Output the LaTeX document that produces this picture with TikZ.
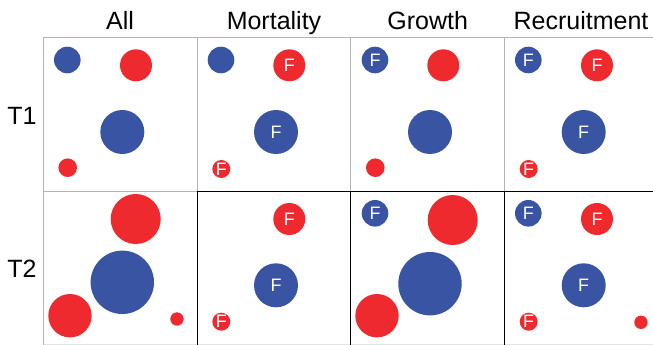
\documentclass[tikz,border=0pt]{standalone}
\usepackage{fontspec}
\setmainfont{Liberation Sans}
\usetikzlibrary{positioning}

\definecolor{DotBlue}{HTML}{3A54A4}
\definecolor{DotRed}{HTML}{EE2A2F}
\definecolor{GridGray}{HTML}{B4B4B4}
\definecolor{EdgeGray}{HTML}{E4E4E4}

\tikzset{
    spot/.style={circle, inner sep=0pt, minimum size=#1, text=white,
        font=\fontsize{18}{18}\selectfont},
    bluespot/.style={spot=#1, fill=DotBlue},
    redspot/.style={spot=#1, fill=DotRed},
    head/.style={anchor=base, font=\fontsize{25}{29}\selectfont},
    graygrid/.style={GridGray, line width=0.8pt},
    blackgrid/.style={black, line width=1pt},
}

\begin{document}
\begin{tikzpicture}[x=1pt, y=-1pt]
\useasboundingbox (0,0) rectangle (653,345);

% ============================
\node[head] (hAll) at (120,30) {All};
\node[head] (hMort) at (274,30) {Mortality};
\node[head] (hGrow) at (427.7,30) {Growth};
\node[head] (hRecr) at (581,30) {Recruitment};

\node[head] (rowA) at (22,124) {T1};
\node[head] (rowB) at (22,277.5) {T2};

% ============================
\draw[EdgeGray, line width=0.8pt] (43,344) -- (653,344);
\draw[graygrid] (43,37.7) -- (653,37.7);
\draw[graygrid] (43,37.7) -- (43,345);
\draw[graygrid] (43,191.7) -- (197,191.7);
\draw[graygrid] (197,37.7) -- (197,191.7);
\draw[graygrid] (350.7,37.7) -- (350.7,191.7);
\draw[graygrid] (504,37.7) -- (504,191.7);

\draw[blackgrid] (197,191.7) -- (653,191.7);
\draw[blackgrid] (197,191.7) -- (197,345);
\draw[blackgrid] (350.7,191.7) -- (350.7,345);
\draw[blackgrid] (504,191.7) -- (504,345);

% ============================ T1
\node[bluespot=26.6pt] (aAll1) at (67.3,60) {};
\node[redspot=32pt] (aAll2) at (136,65.3) {};
\node[bluespot=44pt] (aAll3) at (122.3,132) {};
\node[redspot=18.6pt] (aAll4) at (67.7,167.7) {};

\node[bluespot=26.6pt] (aMort1) at (221,60) {};
\node[redspot=32pt] (aMort2) at (289.3,65.3) {F};
\node[bluespot=44pt] (aMort3) at (276,132) {F};
\node[redspot=18pt] (aMort4) at (221.3,169) {F};

\node[bluespot=26.6pt] (aGrow1) at (375,60) {F};
\node[redspot=32pt] (aGrow2) at (443.3,65.3) {};
\node[bluespot=44pt] (aGrow3) at (430,132) {};
\node[redspot=18.6pt] (aGrow4) at (375.3,167.7) {};

\node[bluespot=26.6pt] (aRecr1) at (528.3,60) {F};
\node[redspot=32pt] (aRecr2) at (597,65.3) {F};
\node[bluespot=44pt] (aRecr3) at (583.7,132) {F};
\node[redspot=18pt] (aRecr4) at (528.7,169) {F};

% ============================ T2
\node[redspot=50pt] (bAll2) at (135.7,219) {};
\node[bluespot=63.4pt] (bAll3) at (122.3,282.3) {};
\node[redspot=43.4pt] (bAll4) at (70,315.7) {};
\node[redspot=13.4pt] (bAll5) at (177,319) {};

\node[redspot=32pt] (bMort2) at (289.3,219) {F};
\node[bluespot=44pt] (bMort3) at (276,285.3) {F};
\node[redspot=18pt] (bMort4) at (221.3,321.7) {F};

\node[bluespot=26.6pt] (bGrow1) at (375,213.3) {F};
\node[redspot=50pt] (bGrow2) at (452.7,220) {};
\node[bluespot=63.4pt] (bGrow3) at (430,283.7) {};
\node[redspot=43.4pt] (bGrow4) at (377,315.7) {};

\node[bluespot=26.6pt] (bRecr1) at (528.3,213.3) {F};
\node[redspot=32pt] (bRecr2) at (597,219) {F};
\node[bluespot=44pt] (bRecr3) at (583.7,285.3) {F};
\node[redspot=18pt] (bRecr4) at (528.7,321.7) {F};
\node[redspot=13.4pt] (bRecr5) at (641,322.3) {};

% ============================
\end{tikzpicture}
\end{document}
